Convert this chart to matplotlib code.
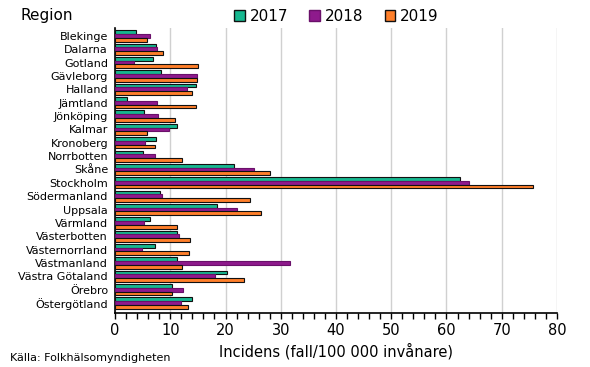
import matplotlib
matplotlib.use("Agg")
import matplotlib.pyplot as plt
import numpy as np
from matplotlib.ticker import MultipleLocator
from matplotlib.patches import Patch

regions = ["Blekinge", "Dalarna", "Gotland", "Gävleborg", "Halland", "Jämtland",
           "Jönköping", "Kalmar", "Kronoberg", "Norrbotten", "Skåne", "Stockholm",
           "Södermanland", "Uppsala", "Värmland", "Västerbotten", "Västernorrland",
           "Västmanland", "Västra Götaland", "Örebro", "Östergötland"]
v2017 = [3.75, 7.4, 6.8, 8.3, 14.6, 2.2, 5.2, 11.2, 7.5, 5.1, 21.6, 62.5,
         8.1, 18.4, 6.4, 11.2, 7.3, 11.3, 20.2, 10.4, 14.0]
v2018 = [6.3, 7.55, 3.4, 14.9, 13.0, 7.55, 7.7, 9.8, 5.4, 7.2, 25.2, 64.1,
         8.5, 22.1, 5.3, 11.5, 4.9, 31.7, 18.1, 12.3, 12.0]
v2019 = [5.7, 8.7, 15.1, 14.9, 14.0, 14.6, 10.8, 5.7, 7.3, 12.2, 28.1, 75.7,
         24.5, 26.5, 11.3, 13.5, 13.4, 12.2, 23.3, 10.4, 13.2]
years = ["2017", "2018", "2019"]

colors = ["#17b890", "#8e1a8c", "#ff7f2a"]
edges = ["#111111", "#6a106a", "#111111"]

plt.rcParams['font.family'] = ['DejaVu Sans']
fig = plt.figure(figsize=(5.9, 3.67), dpi=100)
ax = fig.add_axes([0.195, 0.147, 0.749, 0.777])

y = np.arange(len(regions))
h = 0.28
for k, (vals, c, e) in enumerate(zip([v2017, v2018, v2019], colors, edges)):
    ax.barh(y + (k - 1) * h, vals, height=h, color=c, edgecolor=e, linewidth=0.8, zorder=3)

ax.set_ylim(20.75, -0.6)
ax.set_xlim(0, 80)
ax.set_yticks(y)
ax.set_yticklabels(regions, fontsize=8)
ax.tick_params(axis='y', length=0, pad=5)
ax.xaxis.set_major_locator(MultipleLocator(10))
ax.xaxis.set_minor_locator(MultipleLocator(2))
ax.tick_params(axis='x', which='both', direction='out', length=4, width=1, colors='black', labelsize=10.5)
ax.grid(axis='x', which='major', color='#d0d0d0', linewidth=1, zorder=0)
for s in ['top', 'right']:
    ax.spines[s].set_visible(False)
ax.spines['left'].set_linewidth(1.2)
ax.spines['bottom'].set_linewidth(1.2)
ax.set_xlabel("Incidens (fall/100 000 invånare)", fontsize=10.5, labelpad=3)

handles = [Patch(facecolor=c, edgecolor=e, linewidth=1) for c, e in zip(colors, edges)]
fig.legend(handles, years, loc='center', bbox_to_anchor=(0.57, 0.955), ncol=3, frameon=False,
           fontsize=11, handlelength=0.7, handleheight=0.7, handletextpad=0.3, columnspacing=1.4)

fig.text(0.034, 0.958, "Region", fontsize=11, va='center', ha='left')
fig.text(0.017, 0.024, "Källa: Folkhälsomyndigheten", fontsize=8, va='center', ha='left')

fig.savefig("out.png", dpi=100)
